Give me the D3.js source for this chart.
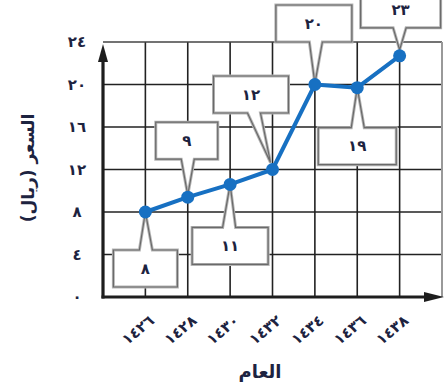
<!DOCTYPE html>
<html>
<head>
<meta charset="utf-8">
<script src="https://cdn.jsdelivr.net/npm/d3@7"></script>
<style>
  body { margin: 0; background: #fff; }
  text { font-family: "DejaVu Sans", sans-serif; font-weight: bold; }
</style>
</head>
<body>
<div class="chart"></div>
<script>
// data
var years = [1426, 1428, 1430, 1432, 1434, 1436, 1438];
var prices = [8, 9.4, 10.6, 12, 20, 19.7, 22.7];
var priceLabels = ["٨", "٩", "١١", "١٢", "٢٠", "١٩", "٢٣"];
var yTicks = [0, 4, 8, 12, 16, 20, 24];
var xTitle = "العام";
var yTitle = "السعر (ريال)";

// callout layout (pixels relative to each point)
var callouts = [
  { side: "below", dx: 0, gap: 38, w: 64, bx: 0.5, tdx: 0, tip: 0 },
  { side: "above", dx: -1, gap: 38, w: 62, bx: 0, tdx: 0, tip: 2 },
  { side: "below", dx: 0, gap: 43, w: 76, bx: -1, tdx: 0, tip: 0 },
  { side: "above", dx: -21.5, gap: 56.5, w: 75, bx: -18.5, tdx: -2, tip: 7 },
  { side: "above", dx: -1, gap: 42.5, w: 76, bx: 1, tdx: 0, tip: 1 },
  { side: "below", dx: 0, gap: 40, w: 78, bx: 0.5, tdx: 0, tip: 0 },
  { side: "above", dx: 1, gap: 28, w: 80, bx: 0, tdx: 0, tip: 6 }
];

var svgWidth = 447, svgHeight = 392;
var margin = { top: 42, right: 5, bottom: 95, left: 103 };
var width = 339, height = 255;

var arab = function (n) {
  return String(n).replace(/\d/g, function (d) { return "٠١٢٣٤٥٦٧٨٩"[d]; });
};

var svg = d3.select(".chart").append("svg")
  .attr("width", svgWidth)
  .attr("height", svgHeight);

var x = d3.scaleLinear().domain([1424, 1440]).range([margin.left, margin.left + width]);
var y = d3.scaleLinear().domain([0, 24]).range([margin.top + height, margin.top]);

// grid
var grid = svg.append("g");
grid.selectAll("line.v")
  .data(years)
  .enter().append("line")
  .attr("x1", d => x(d)).attr("x2", d => x(d))
  .attr("y1", y(24)).attr("y2", y(0))
  .attr("stroke", "#222").attr("stroke-width", 1.6);
grid.selectAll("line.h")
  .data(yTicks.filter(d => d > 0))
  .enter().append("line")
  .attr("x1", x(1424)).attr("x2", x(1440))
  .attr("y1", d => y(d)).attr("y2", d => y(d))
  .attr("stroke", d => d == 24 ? "#444" : "#222").attr("stroke-width", 1.6);
grid.append("line")
  .attr("x1", x(1440)).attr("x2", x(1440))
  .attr("y1", y(24)).attr("y2", y(0))
  .attr("stroke", "#999").attr("stroke-width", 2);

// axes with arrows
var axisColor = "#1e1e1e";
svg.append("line")
  .attr("x1", x(1424)).attr("x2", x(1424))
  .attr("y1", y(0) + 1.5).attr("y2", y(24) + 14)
  .attr("stroke", axisColor).attr("stroke-width", 3.2);
svg.append("path")
  .attr("d", `M${x(1424)},${y(24) + 2} L${x(1424) - 5},${y(24) + 20} L${x(1424) + 5},${y(24) + 20} Z`)
  .attr("fill", axisColor);
svg.append("line")
  .attr("x1", x(1424) - 1.5).attr("x2", x(1440) - 14)
  .attr("y1", y(0)).attr("y2", y(0))
  .attr("stroke", axisColor).attr("stroke-width", 3.2);
svg.append("path")
  .attr("d", `M${x(1440) + 2},${y(0)} L${x(1440) - 18},${y(0) - 5} L${x(1440) - 18},${y(0) + 5} Z`)
  .attr("fill", axisColor);

// tick labels
svg.selectAll("text.ytick")
  .data(yTicks)
  .enter().append("text")
  .attr("x", 77)
  .attr("y", d => y(d))
  .attr("dy", "0.35em")
  .attr("text-anchor", "middle")
  .attr("font-size", 15)
  .attr("fill", "#1d2340")
  .text(d => arab(d));

svg.selectAll("text.xtick")
  .data(years)
  .enter().append("text")
  .attr("transform", d => `translate(${x(d) + 10},${y(0) + 25}) rotate(-40)`)
  .attr("text-anchor", "end")
  .attr("font-size", 15)
  .attr("fill", "#1d2340")
  .text(d => arab(d));

// titles
svg.append("text")
  .attr("x", 260).attr("y", 378)
  .attr("text-anchor", "middle")
  .attr("font-size", 18)
  .attr("fill", "#1d2340")
  .text(xTitle);
svg.append("text")
  .attr("transform", "translate(34,168) rotate(-90)")
  .attr("text-anchor", "middle")
  .attr("font-size", 17)
  .attr("fill", "#1d2340")
  .text(yTitle);

// callouts
var boxH = 37, baseW = 13;
years.forEach(function (yr, i) {
  var c = callouts[i];
  var px = x(yr), py = y(prices[i]);
  var cx = px + c.dx, x0 = cx - c.w / 2, x1 = cx + c.w / 2;
  var bL = px + c.bx - baseW / 2, bR = px + c.bx + baseW / 2;
  var tx = px + c.tdx, d, y0, y1;
  if (c.side == "above") {
    y1 = py - c.gap; y0 = y1 - boxH;
    var ty = py - c.tip;
    d = `M${x0},${y0} L${x1},${y0} L${x1},${y1} L${bR},${y1} L${tx},${ty} L${bL},${y1} L${x0},${y1} Z`;
  } else {
    y0 = py + c.gap; y1 = y0 + boxH;
    var ty = py + c.tip;
    d = `M${x0},${y0} L${bL},${y0} L${tx},${ty} L${bR},${y0} L${x1},${y0} L${x1},${y1} L${x0},${y1} Z`;
  }
  var g = svg.append("g");
  g.append("path").attr("d", d)
    .attr("fill", "#fff").attr("stroke", "#b5b5b5").attr("stroke-width", 3)
    .attr("stroke-linejoin", "miter");
  g.append("path").attr("d", d)
    .attr("fill", "none").attr("stroke", "#6a6a6a").attr("stroke-width", 1.2);
  g.append("text")
    .attr("x", cx).attr("y", (y0 + y1) / 2)
    .attr("dy", "0.35em")
    .attr("text-anchor", "middle")
    .attr("font-size", 15)
    .attr("fill", "#1d2340")
    .text(priceLabels[i]);
});

// line and points
var line = d3.line().x((d, i) => x(years[i])).y(d => y(d));
svg.append("path")
  .datum(prices)
  .attr("d", line)
  .attr("fill", "none")
  .attr("stroke", "#1770c2")
  .attr("stroke-width", 4)
  .attr("stroke-linejoin", "round");
svg.selectAll("circle")
  .data(prices)
  .enter().append("circle")
  .attr("cx", (d, i) => x(years[i]))
  .attr("cy", d => y(d))
  .attr("r", 6.5)
  .attr("fill", "#1770c2");
</script>
</body>
</html>
